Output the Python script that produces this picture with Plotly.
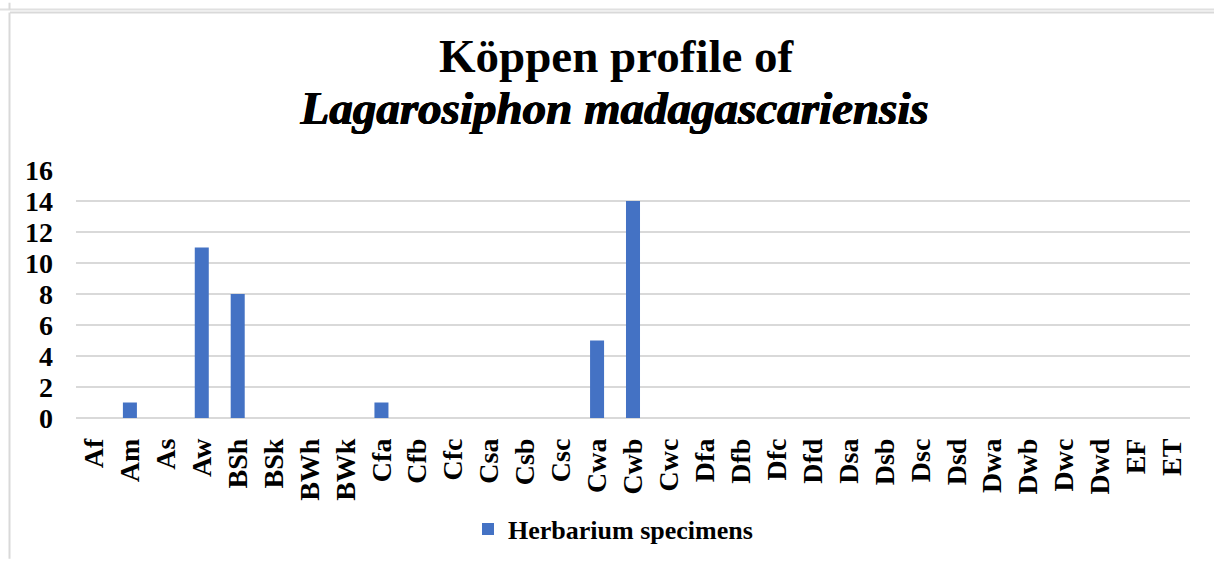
import plotly.graph_objects as go

categories = ["Af", "Am", "As", "Aw", "BSh", "BSk", "BWh", "BWk", "Cfa", "Cfb", "Cfc",
              "Csa", "Csb", "Csc", "Cwa", "Cwb", "Cwc", "Dfa", "Dfb", "Dfc", "Dfd",
              "Dsa", "Dsb", "Dsc", "Dsd", "Dwa", "Dwb", "Dwc", "Dwd", "EF", "ET"]
specimens = [0, 1, 0, 11, 8, 0, 0, 0, 1, 0, 0,
             0, 0, 0, 5, 14, 0, 0, 0, 0, 0,
             0, 0, 0, 0, 0, 0, 0, 0, 0, 0]
y_ticks = [0, 2, 4, 6, 8, 10, 12, 14, 16]

W, H = 1214, 565
ml, mr, mt, mb = 76, 24, 170, 143
pw, ph = W - ml - mr, H - mt - mb

def px(x):
    return (x - ml) / pw

def py(y):
    return (H - mb - y) / ph

font = "Liberation Serif, Times New Roman, serif"

fig = go.Figure()
fig.add_trace(go.Bar(
    x=categories, y=specimens, name="Herbarium specimens",
    marker=dict(color="#4472C4", line=dict(width=0)),
))

fig.update_layout(
    width=W, height=H,
    margin=dict(l=ml, r=mr, t=mt, b=mb),
    paper_bgcolor="white", plot_bgcolor="white",
    font=dict(family=font, color="black"),
    bargap=0.61,
    showlegend=True,
    legend=dict(orientation="h", x=px(613), xanchor="center", y=py(535), yanchor="middle",
                font=dict(size=26, family=font, color="black", weight="bold"),
                itemwidth=30, traceorder="normal"),
    xaxis=dict(
        type="category", tickangle=-90, showgrid=False, showline=False, zeroline=False,
        tickfont=dict(size=28, family=font, color="black", weight="bold"),
        ticks="", ticklabelstandoff=14,
    ),
    yaxis=dict(
        range=[0, 16], tickvals=y_ticks, showgrid=True, gridcolor="#D9D9D9", gridwidth=2,
        zeroline=True, zerolinecolor="#D9D9D9", zerolinewidth=2, showline=False,
        tickfont=dict(size=28, family=font, color="black", weight="bold"),
        ticks="", ticklabelstandoff=22,
    ),
    annotations=[
        dict(text="Köppen profile of", xref="paper", yref="paper", x=px(617), y=py(54),
             xanchor="center", yanchor="middle", showarrow=False,
             font=dict(size=47, family=font, color="black", weight="bold")),
        dict(text="Lagarosiphon madagascariensis", xref="paper", yref="paper",
             x=px(613), y=py(107), xanchor="center", yanchor="middle", showarrow=False,
             font=dict(size=47, family=font, color="black", weight="bold", style="italic",
                       shadow="0.6px 0 0 black, 1.2px 0 0 black, 0.6px 0.4px 0 black")),
    ],
    shapes=[
        dict(type="line", xref="paper", yref="paper", x0=px(0), x1=px(W), y0=py(7), y1=py(7),
             line=dict(color="#E0E0E0", width=2)),
        dict(type="line", xref="paper", yref="paper", x0=px(10), x1=px(W), y0=py(10), y1=py(10),
             line=dict(color="#D9D9D9", width=2)),
        dict(type="line", xref="paper", yref="paper", x0=px(9.5), x1=px(9.5), y0=py(10), y1=py(H),
             line=dict(color="#D9D9D9", width=2)),
        dict(type="line", xref="paper", yref="paper", x0=px(9.5), x1=px(9.5), y0=py(0), y1=py(7),
             line=dict(color="#D9D9D9", width=2)),
    ],
)

fig.write_html("out.html", config={"displayModeBar": False},
               post_script="document.body.style.margin='0';")
